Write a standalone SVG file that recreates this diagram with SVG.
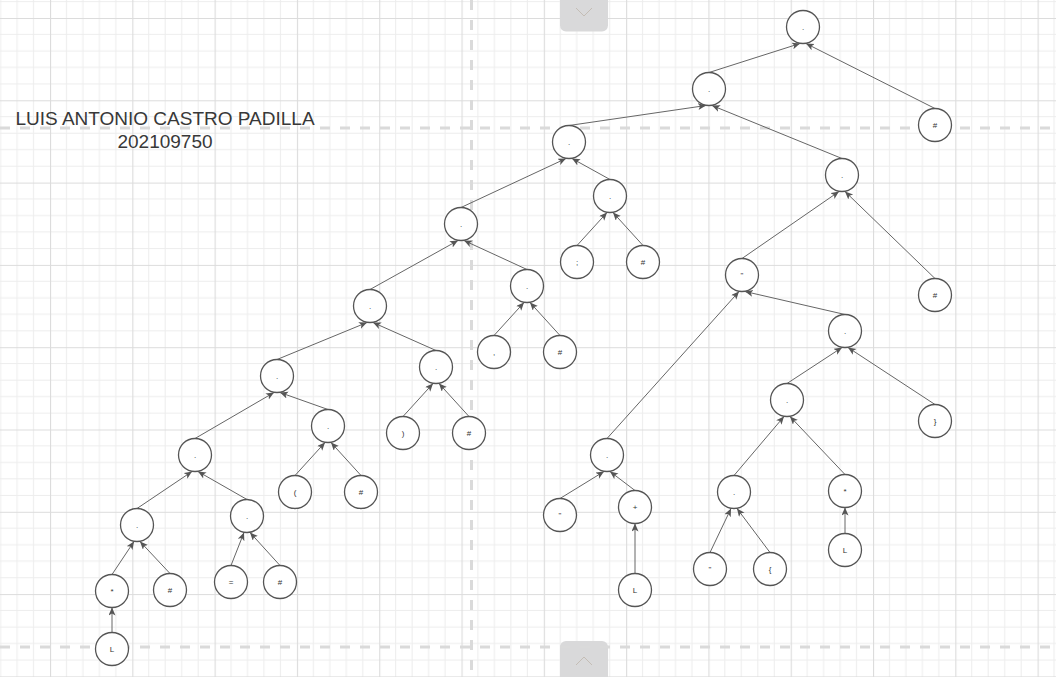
<svg xmlns="http://www.w3.org/2000/svg" width="1056" height="677" viewBox="0 0 1056 677">
<style>
.nd{fill:#ffffff;stroke:#555555;stroke-width:1.3}
.lb{font-family:"Liberation Sans",Arial,sans-serif;font-size:8px;fill:#333333;text-anchor:middle}
.ed{stroke:#666666;stroke-width:1;fill:none;marker-end:url(#ah)}
.dash{stroke:#dadada;stroke-width:3;stroke-dasharray:10 10;fill:none}
.title{font-family:"Liberation Sans",Arial,sans-serif;font-size:19px;fill:#383838;text-anchor:middle}
</style>
<defs>
<pattern id="grid" patternUnits="userSpaceOnUse" x="50" y="18" width="82.3" height="82.3">
<rect width="82.3" height="82.3" fill="#ffffff"/>
<path d="M16.46 0V82.3M32.92 0V82.3M49.38 0V82.3M65.84 0V82.3M0 16.46H82.3M0 32.92H82.3M0 49.38H82.3M0 65.84H82.3" stroke="#ededed" stroke-width="1"/>
<path d="M0.5 0V82.3M0 0.5H82.3" stroke="#dcdcdc" stroke-width="1.2"/>
</pattern>
<marker id="ah" markerUnits="userSpaceOnUse" markerWidth="9" markerHeight="8" refX="8" refY="3.5" orient="auto">
<path d="M0,0 L8,3.5 L0,7 L2,3.5 z" fill="#555555"/>
</marker>
</defs>
<rect x="0" y="0" width="1056" height="677" fill="url(#grid)"/>
<g id="tabs">
<rect x="560" y="-8" width="48" height="39.5" rx="6" fill="#d9d9da"/>
<path d="M576,8 L584,16 L592,8" stroke="#c4bdb5" stroke-width="1" fill="none"/>
<rect x="560" y="641" width="48" height="45" rx="6" fill="#d9d9da"/>
<path d="M576,665 L584,657 L592,665" stroke="#c4bdb5" stroke-width="1" fill="none"/>
</g>
<g id="guides">
<path class="dash" d="M471.5,0V677"/>
<path class="dash" d="M0,128H1056"/>
<path class="dash" d="M0,647H1056"/>
</g>
<g id="title">
<text class="title" x="165" y="125">LUIS ANTONIO CASTRO PADILLA</text>
<text class="title" x="165" y="148">202109750</text>
</g>
<g id="connectors">
<line class="ed" x1="709" y1="72.5" x2="800" y2="43.5"/>
<line class="ed" x1="935" y1="108.5" x2="806" y2="43.5"/>
<line class="ed" x1="569" y1="125.5" x2="706" y2="105.5"/>
<line class="ed" x1="842" y1="158.5" x2="712" y2="105.5"/>
<line class="ed" x1="461" y1="207.5" x2="566" y2="158.5"/>
<line class="ed" x1="610" y1="179.5" x2="572" y2="158.5"/>
<line class="ed" x1="577" y1="245.5" x2="607" y2="212.5"/>
<line class="ed" x1="643" y1="245.5" x2="613" y2="212.5"/>
<line class="ed" x1="370" y1="289.5" x2="458" y2="240.5"/>
<line class="ed" x1="527" y1="269.5" x2="464" y2="240.5"/>
<line class="ed" x1="494" y1="335.5" x2="524" y2="302.5"/>
<line class="ed" x1="560" y1="335.5" x2="530" y2="302.5"/>
<line class="ed" x1="277" y1="359.5" x2="367" y2="322.5"/>
<line class="ed" x1="436" y1="350.5" x2="373" y2="322.5"/>
<line class="ed" x1="403" y1="416.5" x2="433" y2="383.5"/>
<line class="ed" x1="469" y1="416.5" x2="439" y2="383.5"/>
<line class="ed" x1="195" y1="438.5" x2="274" y2="392.5"/>
<line class="ed" x1="328" y1="409.5" x2="280" y2="392.5"/>
<line class="ed" x1="295" y1="475.5" x2="325" y2="442.5"/>
<line class="ed" x1="361" y1="475.5" x2="331" y2="442.5"/>
<line class="ed" x1="137" y1="508.5" x2="192" y2="471.5"/>
<line class="ed" x1="247" y1="499.5" x2="198" y2="471.5"/>
<line class="ed" x1="112" y1="574.5" x2="134" y2="541.5"/>
<line class="ed" x1="170" y1="573.5" x2="140" y2="541.5"/>
<line class="ed" x1="112" y1="632.5" x2="112" y2="607.5"/>
<line class="ed" x1="231" y1="565.5" x2="244" y2="532.5"/>
<line class="ed" x1="280" y1="565.5" x2="250" y2="532.5"/>
<line class="ed" x1="742" y1="258.5" x2="839" y2="191.5"/>
<line class="ed" x1="935" y1="278.5" x2="845" y2="191.5"/>
<line class="ed" x1="607" y1="438.5" x2="739" y2="291.5"/>
<line class="ed" x1="845" y1="314.5" x2="745" y2="291.5"/>
<line class="ed" x1="560" y1="498.5" x2="604" y2="471.5"/>
<line class="ed" x1="635" y1="490.5" x2="610" y2="471.5"/>
<line class="ed" x1="635" y1="573.5" x2="635" y2="523.5"/>
<line class="ed" x1="787" y1="383.5" x2="842" y2="347.5"/>
<line class="ed" x1="935" y1="404.5" x2="848" y2="347.5"/>
<line class="ed" x1="734" y1="475.5" x2="784" y2="416.5"/>
<line class="ed" x1="845" y1="474.5" x2="790" y2="416.5"/>
<line class="ed" x1="710" y1="552.5" x2="731" y2="508.5"/>
<line class="ed" x1="770" y1="552.5" x2="737" y2="508.5"/>
<line class="ed" x1="845" y1="533.5" x2="845" y2="507.5"/>
</g>
<g id="n-r"><circle class="nd" cx="803" cy="27" r="16.5"/><text class="lb" x="803" y="29.7">.</text></g>
<g id="n-1"><circle class="nd" cx="709" cy="89" r="16.5"/><text class="lb" x="709" y="91.7">.</text></g>
<g id="n-h1"><circle class="nd" cx="935" cy="125" r="16.5"/><text class="lb" x="935" y="127.7">#</text></g>
<g id="n-2"><circle class="nd" cx="569" cy="142" r="16.5"/><text class="lb" x="569" y="144.7">.</text></g>
<g id="n-3"><circle class="nd" cx="842" cy="175" r="16.5"/><text class="lb" x="842" y="177.7">.</text></g>
<g id="n-4"><circle class="nd" cx="610" cy="196" r="16.5"/><text class="lb" x="610" y="198.7">.</text></g>
<g id="n-5"><circle class="nd" cx="461" cy="224" r="16.5"/><text class="lb" x="461" y="226.7">.</text></g>
<g id="n-s1"><circle class="nd" cx="577" cy="262" r="16.5"/><text class="lb" x="577" y="264.7">;</text></g>
<g id="n-s2"><circle class="nd" cx="643" cy="262" r="16.5"/><text class="lb" x="643" y="264.7">#</text></g>
<g id="n-6"><circle class="nd" cx="742" cy="275" r="16.5"/><text class="lb" x="742" y="277.7">"</text></g>
<g id="n-h2"><circle class="nd" cx="935" cy="295" r="16.5"/><text class="lb" x="935" y="297.7">#</text></g>
<g id="n-7"><circle class="nd" cx="527" cy="286" r="16.5"/><text class="lb" x="527" y="288.7">.</text></g>
<g id="n-8"><circle class="nd" cx="370" cy="306" r="16.5"/><text class="lb" x="370" y="308.7">.</text></g>
<g id="n-9"><circle class="nd" cx="845" cy="331" r="16.5"/><text class="lb" x="845" y="333.7">.</text></g>
<g id="n-c1"><circle class="nd" cx="494" cy="352" r="16.5"/><text class="lb" x="494" y="354.7">,</text></g>
<g id="n-c2"><circle class="nd" cx="560" cy="352" r="16.5"/><text class="lb" x="560" y="354.7">#</text></g>
<g id="n-10"><circle class="nd" cx="277" cy="376" r="16.5"/><text class="lb" x="277" y="378.7">.</text></g>
<g id="n-11"><circle class="nd" cx="436" cy="367" r="16.5"/><text class="lb" x="436" y="369.7">.</text></g>
<g id="n-12"><circle class="nd" cx="787" cy="400" r="16.5"/><text class="lb" x="787" y="402.7">.</text></g>
<g id="n-p1"><circle class="nd" cx="403" cy="433" r="16.5"/><text class="lb" x="403" y="435.7">)</text></g>
<g id="n-p2"><circle class="nd" cx="469" cy="433" r="16.5"/><text class="lb" x="469" y="435.7">#</text></g>
<g id="n-b1"><circle class="nd" cx="935" cy="421" r="16.5"/><text class="lb" x="935" y="423.7">}</text></g>
<g id="n-13"><circle class="nd" cx="195" cy="455" r="16.5"/><text class="lb" x="195" y="457.7">.</text></g>
<g id="n-14"><circle class="nd" cx="328" cy="426" r="16.5"/><text class="lb" x="328" y="428.7">.</text></g>
<g id="n-15"><circle class="nd" cx="607" cy="455" r="16.5"/><text class="lb" x="607" y="457.7">.</text></g>
<g id="n-q1"><circle class="nd" cx="295" cy="492" r="16.5"/><text class="lb" x="295" y="494.7">(</text></g>
<g id="n-q2"><circle class="nd" cx="361" cy="492" r="16.5"/><text class="lb" x="361" y="494.7">#</text></g>
<g id="n-16"><circle class="nd" cx="137" cy="525" r="16.5"/><text class="lb" x="137" y="527.7">.</text></g>
<g id="n-17"><circle class="nd" cx="247" cy="516" r="16.5"/><text class="lb" x="247" y="518.7">.</text></g>
<g id="n-18"><circle class="nd" cx="734" cy="492" r="16.5"/><text class="lb" x="734" y="494.7">.</text></g>
<g id="n-st1"><circle class="nd" cx="845" cy="491" r="16.5"/><text class="lb" x="845" y="493.7">*</text></g>
<g id="n-v1"><circle class="nd" cx="560" cy="515" r="16.5"/><text class="lb" x="560" y="517.7">"</text></g>
<g id="n-pl"><circle class="nd" cx="635" cy="507" r="16.5"/><text class="lb" x="635" y="509.7">+</text></g>
<g id="n-st2"><circle class="nd" cx="112" cy="591" r="16.5"/><text class="lb" x="112" y="593.7">*</text></g>
<g id="n-h3"><circle class="nd" cx="170" cy="590" r="16.5"/><text class="lb" x="170" y="592.7">#</text></g>
<g id="n-eq"><circle class="nd" cx="231" cy="582" r="16.5"/><text class="lb" x="231" y="584.7">=</text></g>
<g id="n-h4"><circle class="nd" cx="280" cy="582" r="16.5"/><text class="lb" x="280" y="584.7">#</text></g>
<g id="n-l1"><circle class="nd" cx="635" cy="590" r="16.5"/><text class="lb" x="635" y="592.7">L</text></g>
<g id="n-v2"><circle class="nd" cx="710" cy="569" r="16.5"/><text class="lb" x="710" y="571.7">"</text></g>
<g id="n-br"><circle class="nd" cx="770" cy="569" r="16.5"/><text class="lb" x="770" y="571.7">{</text></g>
<g id="n-l2"><circle class="nd" cx="845" cy="550" r="16.5"/><text class="lb" x="845" y="552.7">L</text></g>
<g id="n-l3"><circle class="nd" cx="112" cy="649" r="16.5"/><text class="lb" x="112" y="651.7">L</text></g>
</svg>
